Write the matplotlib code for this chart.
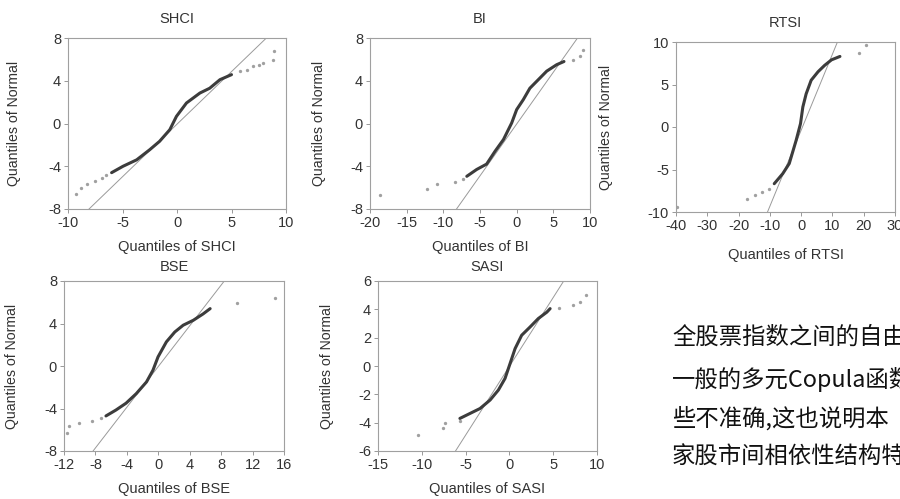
#! /usr/bin/env python
import matplotlib
matplotlib.use('Agg')

import matplotlib.pyplot as plt

# main body of each QQ curve, sparse tail points,
# and end points of the 45-degree reference line
shci_x = [-6.0, -4.95, -3.7, -2.5, -1.6, -0.66, -0.05, 0.87, 2.1, 3.0, 3.94, 5.0]
shci_y = [-4.6, -4.0, -3.4, -2.45, -1.67, -0.58, 0.67, 1.92, 2.85, 3.3, 4.1, 4.57]
shci_tx = [-9.3, -8.8, -8.25, -7.55, -6.9, -6.5, 5.8, 6.4, 7.0, 7.5, 7.9, 8.85, 8.9]
shci_ty = [-6.6, -6.07, -5.66, -5.4, -5.1, -4.8, 4.88, 5.05, 5.35, 5.5, 5.66, 5.97, 6.75]
shci_lx = [-8.07, 8.2]
shci_ly = [-8, 8]

bi_x = [-6.8, -5.45, -4.1, -2.95, -1.8, -0.68, 0.0, 0.9, 1.8, 2.95, 4.1, 5.45, 6.45]
bi_y = [-4.94, -4.3, -3.8, -2.6, -1.5, 0.05, 1.3, 2.23, 3.3, 4.1, 4.9, 5.5, 5.8]
bi_tx = [-18.7, -12.2, -10.9, -8.4, -7.3, 7.7, 8.7, 9.0]
bi_ty = [-6.66, -6.1, -5.7, -5.5, -5.2, 5.9, 6.3, 6.9]
bi_lx = [-8.2, 8.3]
bi_ly = [-8, 8]

rtsi_x = [-8.6, -5.9, -3.8, -1.6, -0.2, 0.54, 1.6, 3.2, 5.4, 7.5, 9.7, 12.4]
rtsi_y = [-6.67, -5.5, -4.3, -1.57, 0.4, 2.35, 3.9, 5.5, 6.5, 7.25, 7.9, 8.3]
rtsi_tx = [-39.6, -17.2, -14.8, -12.4, -10.2, 18.5, 20.6]
rtsi_ty = [-9.4, -8.43, -8.0, -7.65, -7.25, 8.7, 9.6]
rtsi_lx = [-10.75, 11.6]
rtsi_ly = [-10, 10]

bse_x = [-6.66, -5.4, -4.1, -2.8, -1.5, -0.68, -0.03, 1.03, 2.1, 3.17, 4.45, 5.7, 6.6]
bse_y = [-4.7, -4.15, -3.5, -2.6, -1.5, -0.4, 0.86, 2.27, 3.2, 3.84, 4.3, 4.9, 5.4]
bse_tx = [-11.6, -11.4, -10.1, -8.4, -7.3, 10.0, 14.9]
bse_ty = [-6.28, -5.65, -5.34, -5.15, -4.93, 5.93, 6.4]
bse_lx = [-8.3, 8.4]
bse_ly = [-8, 8]

sasi_x = [-5.65, -4.5, -3.35, -2.2, -1.26, -0.5, 0.08, 0.65, 1.4, 2.37, 3.3, 4.27, 4.65]
sasi_y = [-3.7, -3.35, -3.0, -2.4, -1.7, -0.88, 0.18, 1.23, 2.17, 2.76, 3.35, 3.8, 4.05]
sasi_tx = [-10.4, -7.6, -7.4, -5.65, 5.7, 7.3, 8.1, 8.8]
sasi_ty = [-4.87, -4.4, -4.05, -3.86, 4.1, 4.3, 4.5, 5.0]
sasi_lx = [-6.15, 6.2]
sasi_ly = [-6, 6]

shci_xt = [-10, -5, 0, 5, 10]
bi_xt = [-20, -15, -10, -5, 0, 5, 10]
rtsi_xt = [-40, -30, -20, -10, 0, 10, 20, 30]
bse_xt = [-12, -8, -4, 0, 4, 8, 12, 16]
sasi_xt = [-15, -10, -5, 0, 5, 10]
y8_t = [-8, -4, 0, 4, 8]
y10_t = [-10, -5, 0, 5, 10]
y6_t = [-6, -4, -2, 0, 2, 4, 6]

text_lines = [u'全股票指数之间的自由', u'一般的多元Copula函数',
              u'些不准确,这也说明本', u'家股市间相依性结构特']

W, H = 900., 499.
TXT = '#333333'


def pix_axes(fig, l, t, r, b):
    return fig.add_axes([l / W, 1 - b / H, (r - l) / W, (b - t) / H])


def qqpanel(fig, box, name, x, y, tx, ty, lx, ly, xt, yt,
            tpad, xlab_off, ylab_off):
    l, t, r, b = box
    ax = pix_axes(fig, l, t, r, b)
    ax.plot(lx, ly, color='#9a9a9a', lw=0.7, zorder=1)
    ax.plot(x, y, color='#3c3c3c', lw=2.2, solid_capstyle='round', zorder=3)
    ax.plot(tx, ty, 'o', ms=2.4, color='#a0a0a0', mec='none', zorder=2)
    ax.set_xlim(xt[0], xt[-1])
    ax.set_ylim(yt[0], yt[-1])
    ax.set_xticks(xt)
    ax.set_yticks(yt)
    ax.tick_params(length=3, width=0.6, color='#888888', labelsize=10.5,
                   labelcolor=TXT, pad=2)
    for s in ax.spines.values():
        s.set_color('#a0a0a0')
        s.set_linewidth(0.8)
    ax.set_title(name, fontsize=10.5, color=TXT, pad=tpad)
    ax.set_xlabel('Quantiles of ' + name, fontsize=10.5, color=TXT)
    ax.set_ylabel('Quantiles of Normal', fontsize=10.2, color=TXT)
    ax.xaxis.set_label_coords(0.5, -xlab_off / (b - t))
    ax.yaxis.set_label_coords(-ylab_off / (r - l), 0.5)
    return ax


def main():
    plt.rcParams['font.family'] = ['Liberation Sans', 'DejaVu Sans']
    plt.rcParams['axes.unicode_minus'] = False

    fig = plt.figure(figsize=(9, 4.99), dpi=100)

    qqpanel(fig, (68, 38, 286, 209), 'SHCI', shci_x, shci_y, shci_tx, shci_ty,
            shci_lx, shci_ly, shci_xt, y8_t, 11, 31, 47)
    qqpanel(fig, (370, 38, 590, 209), 'BI', bi_x, bi_y, bi_tx, bi_ty,
            bi_lx, bi_ly, bi_xt, y8_t, 11, 31, 44)
    qqpanel(fig, (676, 42, 895, 212), 'RTSI', rtsi_x, rtsi_y, rtsi_tx, rtsi_ty,
            rtsi_lx, rtsi_ly, rtsi_xt, y10_t, 11, 36, 63)
    qqpanel(fig, (64, 281, 284, 451), 'BSE', bse_x, bse_y, bse_tx, bse_ty,
            bse_lx, bse_ly, bse_xt, y8_t, 7, 31, 45)
    qqpanel(fig, (378, 281, 597, 451), 'SASI', sasi_x, sasi_y, sasi_tx, sasi_ty,
            sasi_lx, sasi_ly, sasi_xt, y6_t, 7, 31, 44)

    # paragraph runs off the right edge, as in the source page
    ys = [337, 379, 418, 457]
    for line, yp in zip(text_lines, ys):
        fig.text(672 / W, 1 - yp / H, line, fontsize=16.8, color='#111111',
                 va='center', ha='left',
                 family=['Noto Sans CJK SC', 'DejaVu Sans'])

    fig.savefig('out.png', dpi=100)


if __name__ == '__main__':
    main()
